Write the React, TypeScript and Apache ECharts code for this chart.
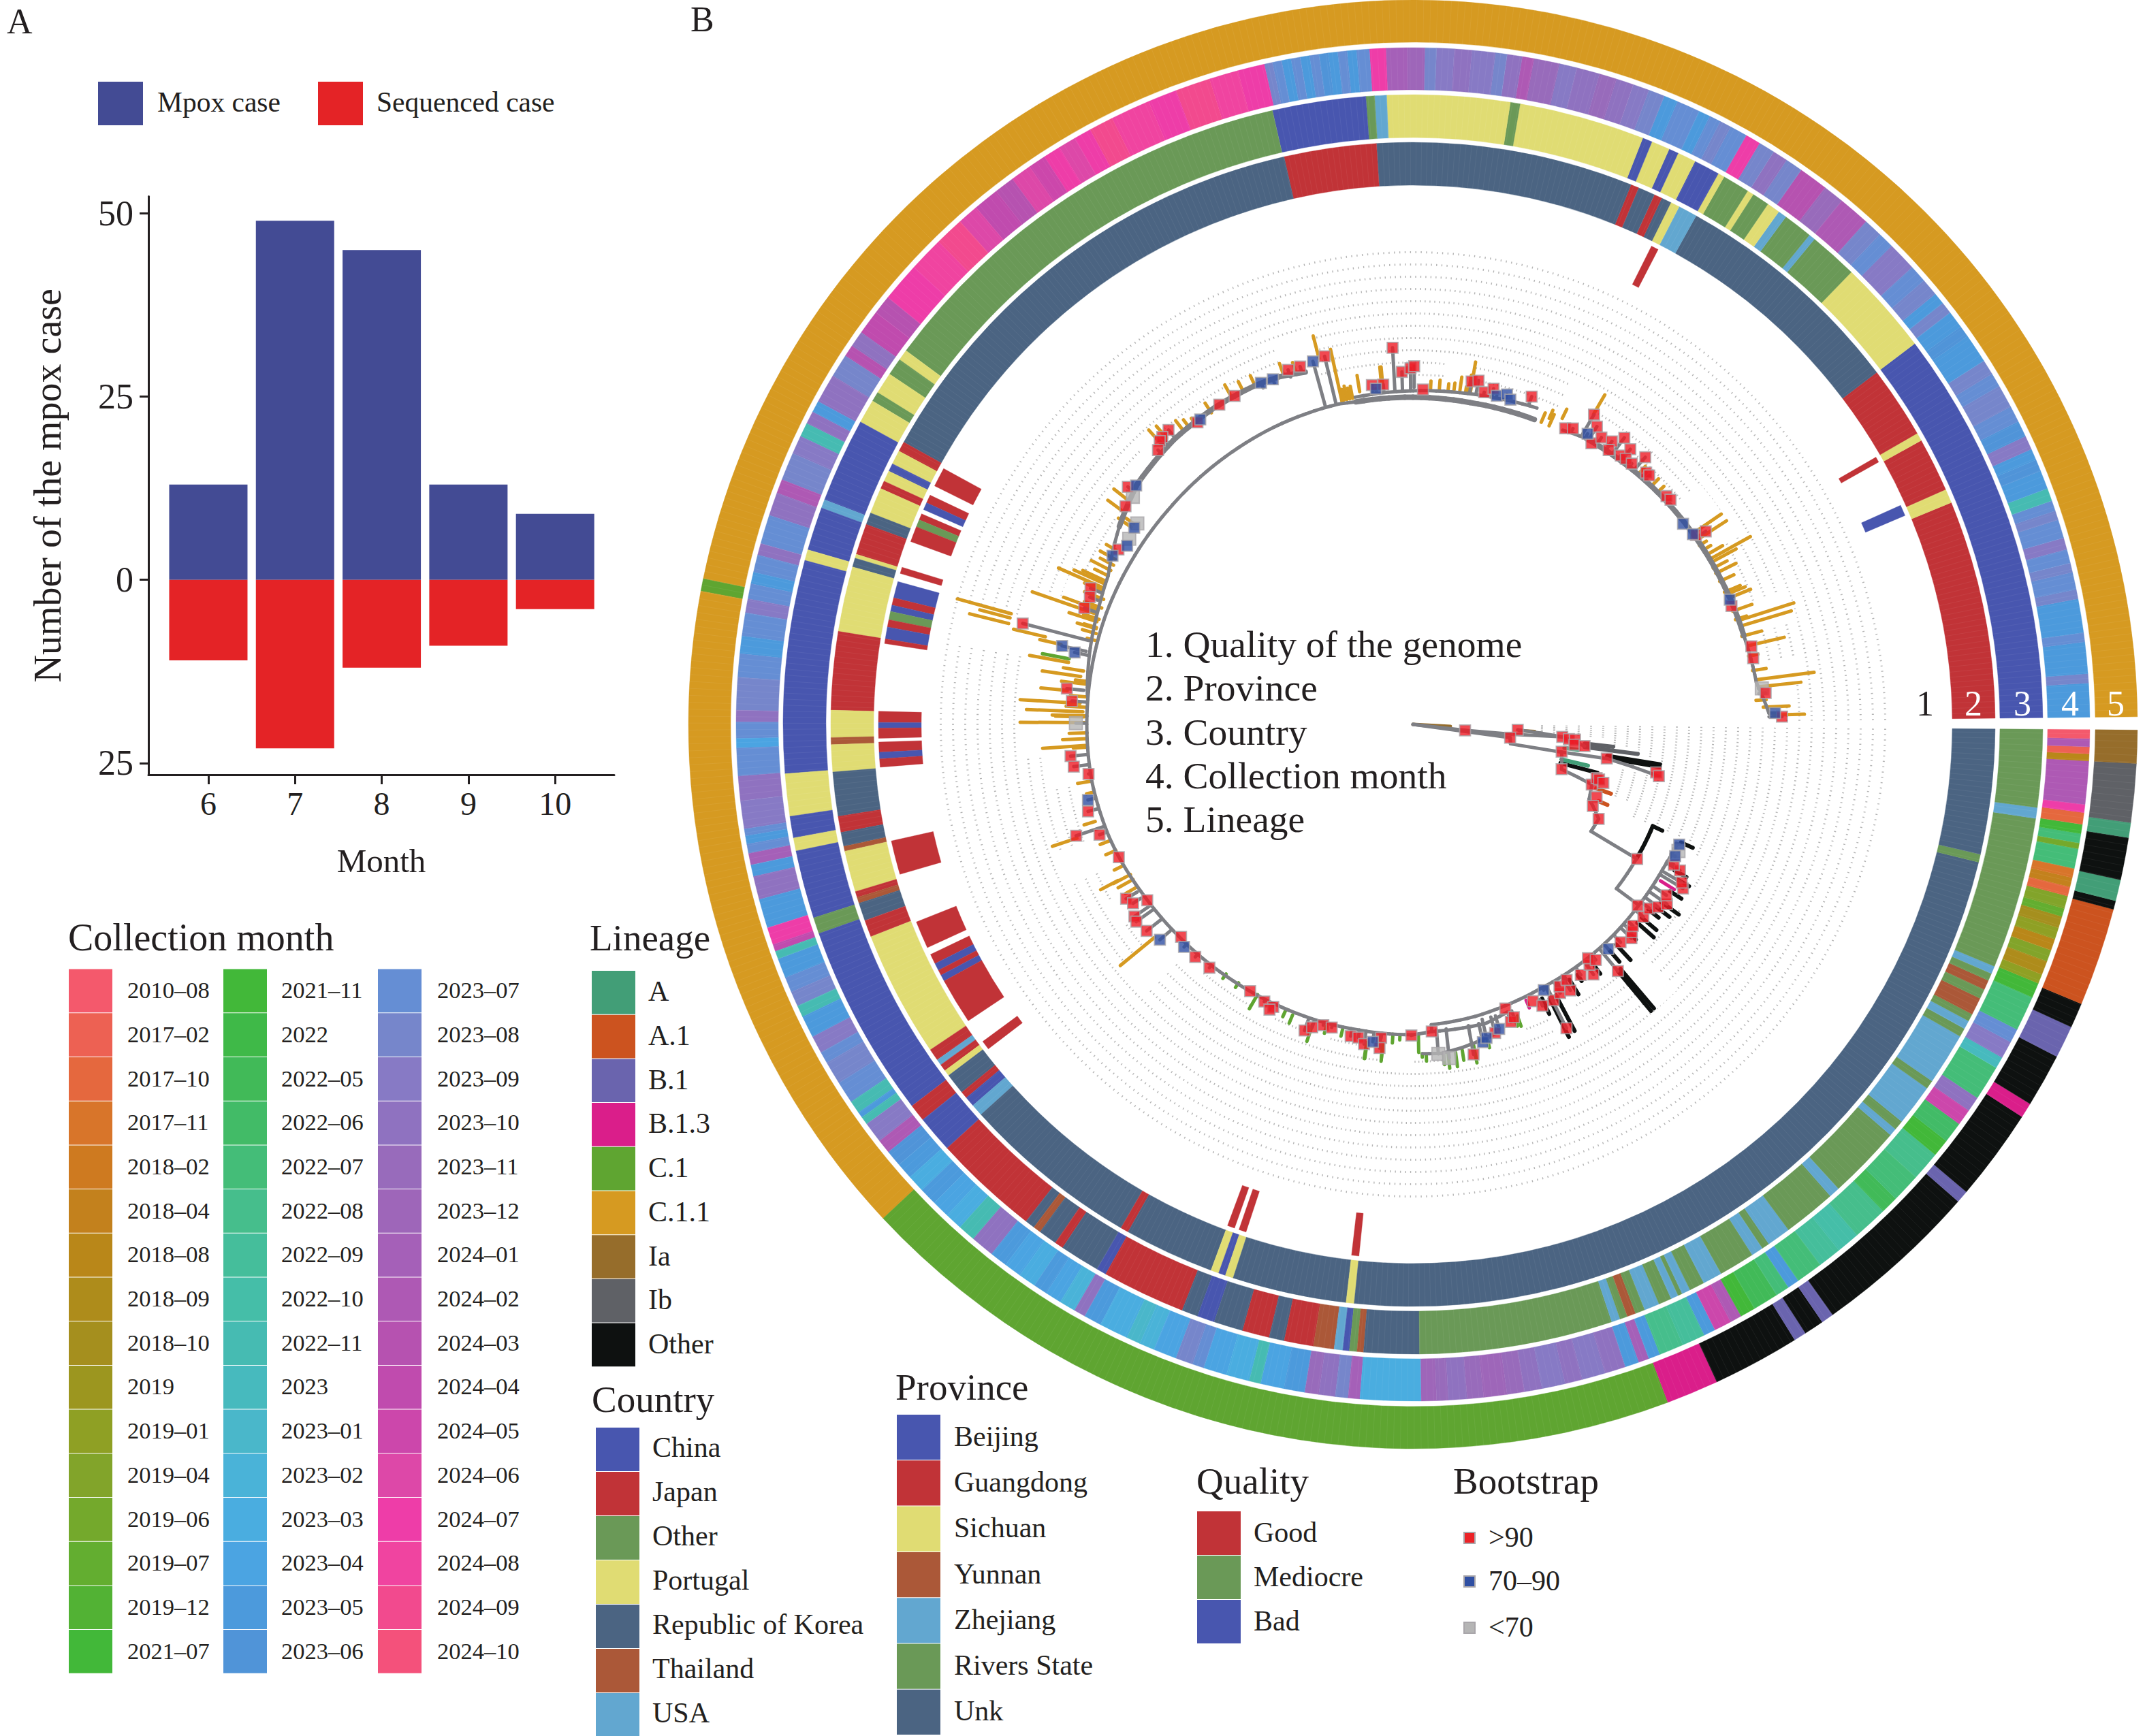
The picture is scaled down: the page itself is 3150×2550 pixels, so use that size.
import React, { useEffect, useRef } from "react";
import * as echarts from "echarts";

const FONT = '"Liberation Serif"';
const INK = "#231F20";

// ---------- Panel A data
const months = [6, 7, 8, 9, 10];
const mpoxCases = [13, 49, 45, 13, 9];
const sequencedCases = [-11, -23, -12, -9, -4];
const yTicks = [-25, 0, 25, 50];

// ---------- palettes / legends
const monthNames = ["2010–08","2017–02","2017–10","2017–11","2018–02","2018–04","2018–08","2018–09","2018–10","2019","2019–01","2019–04","2019–06","2019–07","2019–12","2021–07","2021–11","2022","2022–05","2022–06","2022–07","2022–08","2022–09","2022–10","2022–11","2023","2023–01","2023–02","2023–03","2023–04","2023–05","2023–06","2023–07","2023–08","2023–09","2023–10","2023–11","2023–12","2024–01","2024–02","2024–03","2024–04","2024–05","2024–06","2024–07","2024–08","2024–09","2024–10"];
const monthColors = ["#F4596C","#ED6153","#E5683E","#D8752A","#CE7A20","#C3811D","#B98719","#AE8C1B","#A58F1E","#9C961F","#8FA024","#82A42A","#74A92C","#63AE30","#52B234","#42B839","#42B839","#3FB948","#41BA58","#42BB67","#44BD78","#46BE8C","#45BE9B","#45BEA8","#46BBB2","#47BABE","#4AB7CA","#4AB3D8","#4AADE0","#4BA4E2","#4C9ADC","#5094D8","#658ED4","#7686CB","#877AC5","#8F72C0","#986BBB","#9E66B9","#A560B8","#AE59B4","#B652B0","#C04BAE","#CC47AB","#DD48A8","#EE3DA8","#F044A0","#F24A8E","#F4517B"];
const lineageNames = ["A","A.1","B.1","B.1.3","C.1","C.1.1","Ia","Ib","Other"];
const lineageColors = ["#429E77","#CC531F","#6A64AE","#DA1E8A","#5FA531","#D69A21","#966D2B","#5F6166","#0E1110"];
const countryNames = ["China","Japan","Other","Portugal","Republic of Korea","Thailand","USA"];
const countryColors = ["#4856AF","#C13337","#6A9957","#E0DC73","#4B6482","#AB5838","#62A7D0"];
const provinceNames = ["Beijing","Guangdong","Sichuan","Yunnan","Zhejiang","Rivers State","Unk"];
const provinceColors = ["#4856AF","#C13337","#E0DC73","#AB5838","#62A7D0","#6A9957","#4B6482"];
const qualityNames = ["Good","Mediocre","Bad"];
const qualityColors = ["#C13337","#6A9957","#4856AF"];
const bootstrapNames = [">90","70–90","<70"];
const bootstrapColors = ["#EC2227","#2F4FA3","#B5B5B5"];
const centreLines = ["1. Quality of the genome","2. Province","3. Country","4. Collection month","5. Lineage"];

// ---------- ring runs: [end angle in degrees, counter-clockwise from 3 o'clock, category]
const RING_START = 0.6;
const lineageRuns: [number, string][] = [[168.4,"C.1.1"],[169.4,"C.1"],[223,"C.1.1"],[290.6,"C.1"],[294.8,"B.1.3"],[301.8,"Other"],[302.8,"B.1"],[304.4,"Other"],[305.4,"B.1"],[318.8,"Other"],[319.8,"B.1"],[327.2,"Other"],[328.4,"B.1.3"],[332.7,"Other"],[335.3,"B.1"],[337.3,"Other"],[345.2,"A.1"],[345.9,"Other"],[347.6,"A"],[351,"Other"],[352.2,"A"],[356.9,"Ib"],[359.55,"Ia"]];
const K = "Republic of Korea";
const countryRuns: [number, string][] = [[37.2,"China"],[45.9,"Portugal"],[50.4,"Other"],[51,"USA"],[53.7,"Other"],[54.5,"USA"],[55.7,"Portugal"],[57.3,"Other"],[57.9,"Portugal"],[60.4,"Other"],[61,"Portugal"],[63.4,"China"],[65.1,"Portugal"],[66,"China"],[67.7,"Portugal"],[68.6,"China"],[80.2,"Portugal"],[81.1,"Other"],[92.4,"Portugal"],[93.5,"USA"],[94.3,"Other"],[102.9,"China"],[143.6,"Other"],[144.6,"Portugal"],[146.2,"Other"],[148.2,"Portugal"],[149.1,"Other"],[151.3,"Portugal"],[159.1,"China"],[159.9,"USA"],[163.9,"China"],[164.9,"Portugal"],[184.5,"China"],[188.4,"Portugal"],[190.4,"China"],[191.6,"Portugal"],[197.9,"China"],[199.4,"Other"],[217.3,"China"],[218.9,"Japan"],[222.3,"China"],[232.1,"Japan"],[233,K],[233.7,"Thailand"],[235.4,K],[236.2,"Japan"],[239.9,K],[240.8,"China"],[248.5,"Japan"],[250,K],[251.6,"China"],[254.3,K],[256.8,"Japan"],[258.2,K],[260.9,"Japan"],[262.8,"Thailand"],[263.6,"USA"],[264.2,"China"],[264.9,"Other"],[265.5,"Thailand"],[270.6,K],[288.4,"Other"],[289.2,"USA"],[289.9,"Other"],[290.7,"Thailand"],[291.6,"Other"],[293,"USA"],[294.2,"Other"],[294.9,"USA"],[295.3,"Other"],[296.1,"USA"],[297.5,"Other"],[299.3,"USA"],[302.6,"Other"],[303.7,"USA"],[304.4,"Other"],[306.6,"USA"],[311.5,"Other"],[312.5,"USA"],[319.3,"Other"],[320,"USA"],[320.9,"Other"],[324.7,"USA"],[325.5,"Other"],[330.3,"USA"],[331.1,"Other"],[331.9,"USA"],[332.6,"Other"],[334.2,"Thailand"],[335.1,"Other"],[336,"Thailand"],[336.7,"Other"],[337.4,"USA"],[351.4,"Other"],[352.4,"USA"],[359.55,"Other"]];
const provinceRuns: [number, string][] = [[22.4,"Guangdong"],[23.8,"Sichuan"],[29.2,"Guangdong"],[30,"Sichuan"],[37.2,"Guangdong"],[60.9,"Unk"],[62.8,"Zhejiang"],[63.7,"Sichuan"],[64.7,"Unk"],[65.5,"Guangdong"],[67.2,"Unk"],[68,"Guangdong"],[93.6,"Unk"],[102.8,"Guangdong"],[151,"Unk"],[152,"Guangdong"],[153.4,"Sichuan"],[154.2,"Beijing"],[155.3,"Sichuan"],[156.1,"Guangdong"],[158.7,"Sichuan"],[159.9,"Unk"],[163,"Guangdong"],[163.4,"Sichuan"],[164.3,"Unk"],[170.8,"Sichuan"],[178.6,"Guangdong"],[181.3,"Sichuan"],[182,"Yunnan"],[184.7,"Sichuan"],[189.1,"Unk"],[190.7,"Guangdong"],[192.1,"Unk"],[192.6,"Yunnan"],[196.7,"Sichuan"],[197.3,"Guangdong"],[197.9,"Yunnan"],[199.7,"Unk"],[201.4,"Guangdong"],[214,"Sichuan"],[215.2,"Guangdong"],[215.8,"Zhejiang"],[216.5,"Guangdong"],[217.1,"Sichuan"],[219.2,"Unk"],[219.9,"Guangdong"],[220.9,"Beijing"],[222.1,"Zhejiang"],[239.9,"Unk"],[240.7,"Guangdong"],[249.7,"Unk"],[250.5,"Sichuan"],[251.2,"Beijing"],[252,"Sichuan"],[263.4,"Unk"],[264.2,"Sichuan"],[346.3,"Unk"],[347.1,"Rivers State"],[359.55,"Unk"]];
const monthRuns: [number, string][] = [[3.5,"2023–05"],[4.3,"2023–08"],[7,"2023–05"],[7.8,"2023–07"],[10.7,"2023–05"],[11.5,"2023–08"],[13,"2023–07"],[13.8,"2023–08"],[15,"2023–07"],[16,"2023–09"],[17.6,"2023–07"],[18.4,"2023–08"],[19.3,"2023–07"],[20.4,"2022–11"],[22,"2023–05"],[23,"2023–06"],[24,"2023–05"],[25.2,"2023–09"],[26.6,"2023–06"],[28,"2023–07"],[30,"2023–08"],[31.2,"2023–07"],[32.5,"2023–08"],[35,"2023–05"],[36,"2023–06"],[37.5,"2023–05"],[38.5,"2023–08"],[39.5,"2023–05"],[41,"2023–08"],[42.5,"2023–07"],[45,"2023–09"],[46.4,"2023–07"],[48,"2023–08"],[50.7,"2024–02"],[52.5,"2023–11"],[55,"2024–03"],[56.5,"2023–08"],[57.8,"2023–10"],[59.2,"2023–08"],[60.5,"2024–07"],[62,"2023–07"],[63,"2023–08"],[64,"2023–07"],[65,"2023–05"],[67,"2023–07"],[68.2,"2023–05"],[69.6,"2023–08"],[71,"2023–09"],[72.5,"2023–10"],[74,"2023–11"],[76,"2023–10"],[77.5,"2023–09"],[79.7,"2023–11"],[80.7,"2024–02"],[82,"2023–10"],[83,"2023–08"],[85,"2023–09"],[86.5,"2023–10"],[88,"2023–09"],[89,"2023–08"],[90.5,"2023–12"],[92.3,"2024–01"],[93.7,"2024–07"],[94.8,"2023–07"],[95.6,"2023–05"],[96.4,"2023–07"],[97.2,"2023–05"],[98,"2023–06"],[98.8,"2023–07"],[99.6,"2023–05"],[100.4,"2023–07"],[101.2,"2023–05"],[102,"2023–07"],[102.7,"2023–08"],[105,"2024–07"],[107.5,"2024–08"],[110.5,"2024–09"],[113,"2024–07"],[116.4,"2024–08"],[118.5,"2024–09"],[120,"2024–07"],[121.5,"2024–06"],[123,"2024–07"],[124.5,"2024–05"],[126.3,"2024–06"],[128,"2024–03"],[130.2,"2024–04"],[132,"2024–06"],[134.5,"2024–09"],[137.5,"2024–08"],[140.9,"2024–07"],[142.5,"2024–03"],[144.6,"2024–04"],[146,"2023–10"],[147,"2024–03"],[149,"2023–08"],[151.5,"2023–10"],[152.5,"2023–05"],[153.6,"2023–10"],[154.8,"2022–11"],[156.4,"2023–09"],[158.8,"2023–08"],[160,"2024–02"],[162,"2023–10"],[164.5,"2023–07"],[165.5,"2023–10"],[167,"2023–07"],[168,"2023–05"],[169.3,"2023–07"],[170.5,"2023–09"],[172.5,"2023–07"],[174,"2023–05"],[176,"2023–07"],[178.8,"2023–08"],[179.8,"2023–10"],[181.2,"2023–07"],[182,"2023–04"],[184.4,"2023–07"],[186.5,"2023–10"],[188.9,"2023–09"],[189.5,"2023–07"],[190.2,"2023–05"],[191,"2023–07"],[192,"2024–01"],[193,"2023–05"],[195,"2023–10"],[197.5,"2023–05"],[199,"2024–07"],[199.6,"2024–04"],[200.3,"2022–11"],[202,"2023–05"],[203.3,"2023–07"],[204.6,"2023–08"],[205.6,"2022–11"],[207.5,"2023–05"],[209,"2023–09"],[210,"2023–07"],[212,"2023–08"],[213.9,"2023–07"],[215,"2022–11"],[215.5,"2023–05"],[216.2,"2022–11"],[218,"2023–09"],[219.2,"2024–02"],[220.6,"2023–06"],[222,"2023–05"],[223.5,"2023–03"],[225,"2023–05"],[226.5,"2023–04"],[228,"2023–03"],[229.5,"2022–11"],[231.5,"2023–10"],[233,"2023–05"],[234.5,"2023–04"],[236,"2023–03"],[237.2,"2023–05"],[238.6,"2023–04"],[240,"2023–02"],[241,"2023–10"],[242.5,"2023–05"],[245,"2023–03"],[246.2,"2023–01"],[247.5,"2023–02"],[249.5,"2023–04"],[251,"2023–08"],[252,"2023–07"],[254,"2023–04"],[256,"2023–03"],[257,"2022–11"],[259,"2023–04"],[260.8,"2023–05"],[262,"2023–11"],[263.4,"2023–10"],[264.5,"2023–08"],[265.5,"2024–01"],[270.7,"2023–03"],[272,"2023–12"],[273,"2023–11"],[274.6,"2023–10"],[276,"2023–11"],[278,"2023–12"],[279.5,"2023–11"],[281,"2023–10"],[283,"2023–09"],[284.5,"2023–10"],[286.5,"2023–09"],[288.3,"2023–10"],[289.5,"2023–05"],[290.4,"2024–01"],[291.4,"2023–05"],[293.5,"2022–08"],[295.5,"2022–09"],[296.5,"2023–05"],[298,"2024–05"],[299,"2024–02"],[300.3,"2021–07"],[302.5,"2022–05"],[303.7,"2022–07"],[304.7,"2023–05"],[307,"2022–07"],[309,"2022–09"],[311,"2022–10"],[314,"2022–08"],[315.5,"2022–05"],[318,"2022–07"],[320.5,"2022–08"],[322,"2021–07"],[323.8,"2022–06"],[325.2,"2024–05"],[326.5,"2023–10"],[329.5,"2022–07"],[330.5,"2023"],[332,"2023–09"],[333.2,"2023–07"],[336.2,"2022–07"],[337.5,"2021–07"],[338.3,"2019–01"],[339.5,"2018–09"],[340.5,"2019–04"],[341.5,"2018–08"],[342.5,"2019–01"],[343.5,"2018–10"],[344.2,"2019–07"],[345.3,"2019–04"],[346.1,"2017–10"],[346.9,"2018–04"],[347.7,"2017–11"],[349.4,"2022–07"],[349.9,"2019–06"],[350.7,"2022–07"],[351.5,"2021–07"],[352.5,"2017–10"],[353.2,"2024–07"],[356.9,"2024–02"],[357.5,"2018–08"],[358.1,"2017–02"],[358.8,"2024–02"],[359.55,"2010–08"]];
// quality ring is sparse: [start, end, category]
const qualityRuns: [number, number, string][] = [[23,24.2,"Bad"],[29.4,30,"Good"],[62.7,63.5,"Good"],[151.4,153.5,"Good"],[154.6,155.5,"Good"],[155.5,156.3,"Bad"],[156.8,157.5,"Good"],[157.5,158.3,"Mediocre"],[158.3,160,"Good"],[162.9,163.6,"Good"],[164.5,166.3,"Bad"],[166.3,167.1,"Good"],[167.1,167.8,"Bad"],[167.8,168.7,"Mediocre"],[168.7,169.5,"Good"],[169.5,170.8,"Bad"],[170.8,171.3,"Good"],[178.6,179.8,"Good"],[179.8,180.4,"Bad"],[180.4,181.5,"Good"],[181.9,183,"Good"],[183,183.7,"Bad"],[183.7,184.6,"Good"],[192.6,196.3,"Good"],[201.7,204.7,"Good"],[205.5,206.6,"Good"],[206.6,207.4,"Bad"],[207.4,208,"Good"],[208,208.7,"Bad"],[208.7,213.7,"Good"],[216.4,217.4,"Good"],[249.7,250.5,"Good"],[251,251.8,"Good"],[263.4,264.2,"Good"]];

// ---------- tree: polar readings [radius, angle]
const branchPaths: [number, number][][] = [
  [[523,1.8],[508,7],[503,15],[500,25],[497,36],[495,45],[491,58.7],[485,63]],
  [[499,68.6],[495,75],[492,82],[490,90],[488,100]],
  [[482,68.3],[480,80],[480,90],[481,100],[483,103],[482,115],[480,125],[478,139],[478,150],[479,160],[479,170],[479,180],[479,190],[476,200],[474,204],[468,213],[464,222],[460,235],[458,245],[456,260],[456,270]],
  [[541,107],[547,111],[549,115],[549,122],[546,130],[537,139],[520,146],[498,154],[492,160],[486,168],[480,175]],
  [[456,270],[452,273.5],[452,283.7],[445,288]],
  [[442,273.5],[438.6,282],[435,288],[431,295.5],[428,310],[425,321],[424,330],[426,335.3]],
  [[452,273.5],[442,273.5]],
  [[484,271.7],[485,275],[480,278.8],[470,285]],
  [[0,353.4],[77,353.4],[220,355.2],[254,352.8]],
  [[0,352.2],[144,352.2],[146,348.7],[222,349.4],[289,350],[369,348.1]],
  [[222,349.4],[228,343.2],[277,341.4],[292,342.9]],
  [[277,341.4],[281,337],[290,335.6]],
  [[290,335.6],[306,333],[305,329],[383,329]],
  [[383,329],[384,321.1],[424,321.3]],
  [[154,357],[220,355.2]],
];
const thickBackbone: [number, number][][] = [
  [[541,107],[547,111],[549,115],[549,122],[546,130],[537,139],[520,146]],
  [[482,68.3],[480,80],[481,100]],
  [[503,15],[500,25],[497,36],[495,45],[491,58.7]],
];
const blackPaths: [number, number][][] = [
  [[383,329],[382.5,337],[398,336.9]],
];
const goldTips: [number, number, number][] = [
  [503,587,17.7],[505,580,16.7],[505,560,13.2],[508,594,7.4],[510,573,6.2],[515,553,2.8],[530,575,1.5],[505,548,34.3],[505,549,33],[500,567,29.1],[500,540,28.5],[500,525,30],[500,534,21.8],[500,528,22.5],[527,560,59.8],[495,540,80.2],[495,527,95.1],[495,520,80.5],
  [484,564,102.4],[555,589,104.4],[498,547,155.5],[498,569,156.2],[492,592,160.8],[492,546,160],[488,531,162],[486,515,163.2],[612,694,164.6],[612,658,165.2],[612,671,166],[555,603,166.6],[530,562,167.2],[514,572,169.8],[493,550,171.8],[490,520,170.8],[510,549,174.4],[490,578,176.4],[485,568,177.8],[483,525,178.7],[482,577,179.7],[482,545,183.7],[521,559,198.7],[490,519,207.9],[492,557,219.5],
  [530,559,141.8],[525,556,143.7],[505,528,145],[505,519,144.3],[505,522,149.6],[555,581,131.9],[555,578,130.7],[545,562,122.9],[545,555,125.9],[548,565,115],[548,565,110.3],[548,560,108.4],[495,519,99.1],[497,527,95.3],
  [505,520,4],[505,525,9],[503,517,11.5],[500,530,15],[498,515,18],[498,528,19.5],[497,522,23],[497,520,25],[497,530,26.5],[497,520,27.5],[498,510,31],[496,508,32],[497,508,43.5],[498,510,45],[497,510,48],[500,515,64],[492,505,66],[482,497,67],[482,500,65.5],
  [492,505,87],[492,507,85.5],[492,503,84],[495,505,83],[495,515,82],[495,502,81],[487,505,100.5],[487,503,101],[487,507,101.5],[487,503,102],
  [482,500,190],[482,490,192],[488,505,197],[476,492,201],[474,490,203],[474,488,206],[470,495,209],[470,490,210.5],[470,498,208],
  [500,525,151],[498,520,152],[498,530,153],[498,520,154],[498,535,155],[497,525,156.7],[490,520,158],[488,515,159.5],[486,510,161.5],[486,505,163],[484,505,164],[483,495,165.2],[482,500,172.5],[481,520,173],[480,505,175.2],[480,510,177],[480,530,178.5],[479,505,181.5],[479,515,182.5],[479,500,184],[550,570,119],[550,565,117],[548,560,127],[550,566,128],
];
const greenTips: [number, number, number][] = [
  [514,554,169.2],[458,482,240.1],[478,496,261.7],[478,497,264.6],[457,482,271],[472,496,261.8],[470,495,264.6],[456,469,266.3],[456,464,267.6],[486,495,272.3],[484,489,271.6],[486,508,276.1],[486,502,275.3],[486,507,277.4],[484,499,278.6],[480,506,280.7],[472,488,283.3],[455,471,289.7],[455,469,289.1],[458,466,233.2],[458,466,236],[458,470,246],[462,475,247.5],[465,491,251.5],[462,472,254],[460,470,257],
];
const blackTips: [number, number, number][] = [
  [471,547,309.7],[471,547,310.3],[450,509,297.8],[450,513,296.5],[440,465,301.5],[445,458,306.9],[440,462,311],[440,471,312.7],[445,455,316],[440,472,318.5],[440,468,319.8],[440,459,321.8],[445,471,323.1],[448,480,324.4],[450,470,327],[450,470,329.6],[440,460,330.8],[430,449,336.2],[445,470,295.2],[440,451,303.3],[289,367.5,350.2],[289,367.5,350.8],[224,280,345.3],
];
const ibTips: [number, number, number][] = [[254,296,353.6],[254,333,352.5]];
const aTips: [number, number, number][] = [[224,264,346.7],[225,246,351.2]];
const a1Tips: [number, number, number][] = [[285,308,340.7],[295,309,337.5]];
const iaTips: [number, number, number][] = [[0,55,356.9],[157,179,356.6]];
const b13Tips: [number, number, number][] = [[430,454,327.7],[438,450,292.3]];

const nodesHigh: [number, number][] = [[554,93.1],[518,91.8],[523,90.4],[526,89.8],[492,88.3],[502,96.9],[501,95],[511,80.3],[514,79.2],[499,77.9],[507,76.5],[512,70.1],[489,62.8],[494,61.6],[527,59.7],[514,58.3],[489,57.6],[504,56.7],[508,54.9],[495,54.5],[523,53.6],[499,52.3],[515,51.7],[500,51.3],[500,50],[520,49],[504,47.2],[504,46.5],[501,42],[502,41.1],[500,33.8],[515,33.4],[499,20.4],[510,13],[509,11],[520,5.1],[542,1.2],
  [556,103.5],[551,107.5],[552,109.4],[549,118.5],[549,121.2],[545,125.5],[562,129.7],[560,131.1],[558,131.8],[550,132.9],[545,140.2],[530,142.8],[503,149.3],[514,157.1],[510,158.5],[512,160.5],[592,165.5],[511,174.1],[502,176.1],
  [505,185.3],[502,187.1],[482,188.7],[494,195],[521,198.3],[488,199.4],[474,204.3],[493,211.3],[488,212.6],[468,213.5],[497,214.6],[499,215.5],[495,217.8],[462,222.5],[468,226.9],[466,230.1],[459,238.6],[462,241.8],[463,243.7],[469,243.3],[477,250.5],[469,251.6],[461,253.4],[461,255],[467,258.7],[467,260.1],[475,261.3],[463,264.2],[478,264.1],[457,269.7],
  [452,273.5],[439,288],[460,288.2],[455,289],[443,293.4],[455,294.7],[455,297],[450,298.7],[441,299.2],[500,296.8],[454,300.6],[438,301],[443,303.8],[453,305.8],[438,306.3],[429,306.8],[438,307.8],[471,309.7],[442,313.6],[449,315.6],[443,316.5],[438,317.5],[441,320.1],[424,321.1],[440,322.1],[449,323.3],[457,324.7],[449,326],[464,328.7],[458,329.5],[447,331.3],[435,331.7],[384,329],
  [493,280.4],[469,284.9],
  [77,353.4],[154,357],[144,352.2],[220,355.2],[230,354.6],[239,354.6],[239,352.8],[254,352.8],[222,349.6],[289,350],[364,348.8],[369,348.1],[228,343.2],[277,341.4],[281,343.7],[285,343.5],[292.5,342.9],[290,338.4],[290,335.6],[306,333]];
const nodesMid: [number, number][] = [[496,96.3],[498,75.7],[504,74.1],[498,73.3],[498,59],[494,36.6],[497,34.2],[500,21.5],[532,1.8],[553,105.4],[547,112.1],[549,114],[546,124.9],[537,139.2],[501,144.8],[495,148],[506,150.7],[528,167.4],[508,168],[490,193.1],[488,220.4],[469,224.2],[470,262.8],[435,296.2],[437,311],[431,333.3],[429,335.7],[478,282.4],[473,283.2],[465,285.8]];
const nodesLow: [number, number][] = [[515,5.9],[530,140.9],[501,143.9],[498,146.8],[495,179.8],[485.5,274.4],[493,276.2],[432,334.5]];

// radius of the branch each tip grows from, [from angle, radius]
const stemAngles = [0,5,15,36,45,58,64,68,75,90,103,107,115,125,135,139,146,154,160,168,175,190,204,213,222,235,245,260,270,273,283,295,310,321,330,336.5];
const stemRadii = [523,510,503,497,495,491,486,499,495,490,484,541,547,545,540,537,515,498,492,486,480,479,474,468,464,460,458,456,456,450,445,431,428,425,424,9999];

// dotted tip-alignment lines: inner end by sector, [from angle, radius]
const dotAngles = [0,3,6,10,15,20,25,30,35,40,45,50,55,60,65,70,75,80,85,90,95,100,105,110,115,120,125,130,135,140,145,150,155,160,165,170,175,180,185,190,195,200,205,210,215,220,225,230,235,240,245,250,255,260,265,270,275,280,285,290,295,300,305,310,315,320,325,330,335,337,340,345,348,350,352,354,356,358];
const dotRadii = [545,555,575,530,585,530,520,560,550,510,510,525,525,560,510,510,510,540,510,530,530,520,590,565,565,555,560,580,560,560,530,525,550,590,690,575,575,578,545,510,500,555,500,520,500,557,480,470,470,485,475,485,470,490,500,480,505,505,490,475,515,470,470,550,475,470,480,465,450,340,310,310,370,365,333,296,180,175];

const DOT_OUTER = 695;
const DOT_STEP = 0.65;
const SEAM_STEP = 0.55;
const R = { quality: [722, 785], province: [792, 855], country: [862, 925], month: [932, 994], lineage: [1002, 1064] };
const CX = 2075, CY = 1064;

function lookup(angles: number[], values: number[], a: number) {
  let v = values[0];
  for (let i = 0; i < angles.length; i++) if (angles[i] <= a) v = values[i];
  return v;
}

function buildOption() {
  // ---- ring sectors
  const palette: string[] = [];
  const sectorRows: number[][] = [];
  const pushRun = (band: number[], a0: number, a1: number, color: string) => {
    palette.push(color);
    sectorRows.push([band[0], a0, band[1], a1, palette.length - 1]);
  };
  const pushRuns = (runs: [number, string][], band: number[], names: string[], colors: string[]) => {
    let start = RING_START;
    runs.forEach(([end, name]) => { pushRun(band, start, end, colors[names.indexOf(name)]); start = end; });
  };
  pushRuns(provinceRuns, R.province, provinceNames, provinceColors);
  pushRuns(countryRuns, R.country, countryNames, countryColors);
  pushRuns(monthRuns, R.month, monthNames, monthColors);
  pushRuns(lineageRuns, R.lineage, lineageNames, lineageColors);
  qualityRuns.forEach(([a, b, n]) => pushRun(R.quality, a, b, qualityColors[qualityNames.indexOf(n)]));

  // ---- faint seams between neighbouring tips
  const seamRows: number[][] = [];
  [R.province, R.country, R.month, R.lineage].forEach((band) => {
    for (let a = RING_START + SEAM_STEP; a < 359.4; a += SEAM_STEP) seamRows.push([band[0], a, band[1], a, 0]);
  });

  // ---- dotted lines
  const dotRows: number[][] = [];
  for (let a = RING_START; a < 359.5; a += DOT_STEP) {
    const inner = lookup(dotAngles, dotRadii, a);
    dotRows.push([DOT_OUTER, a, inner, a, 0]);
  }

  // ---- tree lines
  const lineStyles = [
    { stroke: "#7E7F84", lineWidth: 5 },
    { stroke: "#D69A21", lineWidth: 5 },
    { stroke: "#5FA531", lineWidth: 5 },
    { stroke: "#0E1110", lineWidth: 6 },
    { stroke: "#5F6166", lineWidth: 6 },
    { stroke: "#429E77", lineWidth: 6 },
    { stroke: "#CC531F", lineWidth: 6 },
    { stroke: "#966D2B", lineWidth: 5 },
    { stroke: "#DA1E8A", lineWidth: 5 },
    { stroke: "#7E7F84", lineWidth: 8 },
  ];
  const treeRows: number[][] = [];
  const addTips = (tips: [number, number, number][], s: number) =>
    tips.forEach(([r0, r1, a]) => treeRows.push([r0, a, r1, a, s]));
  const addPath = (p: [number, number][], s: number) => {
    for (let i = 1; i < p.length; i++) {
      const [r0, a0] = p[i - 1];
      const [r1, a1] = p[i];
      const n = Math.max(1, Math.ceil(Math.abs(a1 - a0) / 1.5));
      for (let k = 0; k < n; k++) {
        const t0 = k / n, t1 = (k + 1) / n;
        treeRows.push([r0 + (r1 - r0) * t0, a0 + (a1 - a0) * t0, r0 + (r1 - r0) * t1, a0 + (a1 - a0) * t1, s]);
      }
    }
  };
  addTips(goldTips, 1); addTips(greenTips, 2); addTips(blackTips, 3); addTips(ibTips, 4);
  addTips(aTips, 5); addTips(a1Tips, 6); addTips(iaTips, 7); addTips(b13Tips, 8);
  blackPaths.forEach((p) => addPath(p, 3));
  [...nodesHigh, ...nodesMid, ...nodesLow].forEach(([r, a]) => {
    const base = lookup(stemAngles, stemRadii, a);
    if (r > base) treeRows.push([base, a, r, a, 0]);
  });
  branchPaths.forEach((p) => addPath(p, 0));
  thickBackbone.forEach((p) => addPath(p, 9));

  const lineRender = (styleOf: (i: number) => any) => (_: any, api: any) => {
    const a = api.coord([api.value(0), api.value(1)]);
    const b = api.coord([api.value(2), api.value(3)]);
    return { type: "line", silent: true, shape: { x1: a[0], y1: a[1], x2: b[0], y2: b[1] }, style: { lineCap: "round", ...styleOf(api.value(4)) } };
  };

  // ---- graphics: legends and texts
  const g: any[] = [];
  const txt = (text: string, x: number, y: number, size: number, fill = INK, align = "left") =>
    g.push({ type: "text", silent: true, z: 20, x, y, style: { text, fontFamily: FONT, fontSize: size, fill, textAlign: align, textVerticalAlign: "middle", align, verticalAlign: "middle" } });
  const rect = (x: number, y: number, w: number, h: number, fill: string, extra: any = {}) =>
    g.push({ type: "rect", silent: true, shape: { x, y, width: w, height: h }, style: { fill, ...extra } });

  txt("A", 10, 31, 52);
  txt("B", 1014, 28, 52);
  rect(144, 120, 66, 64, "#434B94");
  txt("Mpox case", 231, 150, 41.5);
  rect(467, 120, 66, 64, "#E42326");
  txt("Sequenced case", 553, 150, 41.5);

  txt("Collection month", 100, 1377, 56);
  const colX = [101, 328, 555];
  const colText = [187, 413, 642];
  monthNames.forEach((m, i) => {
    const c = Math.floor(i / 16), row = i % 16;
    const y = 1423.6 + row * 64.7;
    rect(colX[c], y, 64, 63.7, monthColors[i]);
    txt(m, colText[c], y + 30.5, 34.5);
  });

  const legend = (title: string, tx: number, ty: number, names: string[], colors: string[], sx: number, sy: number, sh: number, lx: number, dy = -2) => {
    txt(title, tx, ty, 55);
    names.forEach((n, i) => {
      rect(sx, sy + i * sh, 64, sh - 1, colors[i]);
      txt(n, lx, sy + i * sh + sh / 2 + dy, 42);
    });
  };
  legend("Lineage", 866, 1377, lineageNames, lineageColors, 869, 1426, 64.7, 952);
  legend("Country", 869, 2055, countryNames, countryColors, 875, 2097, 65, 958, -4);
  legend("Province", 1315, 2037, provinceNames, provinceColors, 1317, 2078, 67.3, 1401);
  legend("Quality", 1757, 2175, qualityNames, qualityColors, 1758, 2220, 65, 1841);
  txt("Bootstrap", 2134, 2175, 55);
  const bootY = [2259, 2323, 2391];
  bootstrapNames.forEach((n, i) => {
    rect(2150, bootY[i] - 8, 16, 16, bootstrapColors[i], { stroke: "#A9A6AA", lineWidth: 2 });
    txt(n, 2186, bootY[i] - 1, 42);
  });

  const lineY = [946, 1010, 1075, 1139, 1203];
  centreLines.forEach((t, i) => txt(t, 1682, lineY[i], 55.5));

  const ringX = [2827, 2898, 2970, 3040, 3107];
  ringX.forEach((x, i) => txt(String(i + 1), x, 1033, 52, i === 0 ? INK : "#FFFFFF", "center"));

  const scatter = (data: [number, number][], color: string, size: number) => ({
    type: "scatter", coordinateSystem: "polar", silent: true, z: 5,
    data, symbol: "rect", symbolSize: size, encode: { radius: 0, angle: 1 },
    itemStyle: { color, borderColor: "#A9A6AA", borderWidth: 1.8 },
  });

  return {
    animation: false,
    backgroundColor: "#FFFFFF",
    textStyle: { fontFamily: FONT },
    grid: { left: 218, top: 288.6, width: 684, height: 849.4 },
    xAxis: {
      type: "value", min: 5.309, max: 10.682, name: "Month", nameLocation: "middle", nameGap: 102,
      nameTextStyle: { fontFamily: FONT, fontSize: 49, color: INK },
      axisLine: { show: true, onZero: false, lineStyle: { color: INK, width: 3 } },
      axisTick: { show: true, customValues: months, length: 14, lineStyle: { color: INK, width: 3 } },
      axisLabel: { customValues: months, fontFamily: FONT, fontSize: 48, color: INK, margin: 18 },
      splitLine: { show: false },
    },
    yAxis: {
      type: "value", min: -26.6, max: 52.3, name: "Number of the mpox case", nameLocation: "middle", nameGap: 120,
      nameTextStyle: { fontFamily: FONT, fontSize: 56, color: INK },
      axisLine: { show: true, onZero: false, lineStyle: { color: INK, width: 3 } },
      axisTick: { show: true, customValues: yTicks, length: 13, lineStyle: { color: INK, width: 3 } },
      axisLabel: { customValues: yTicks, fontFamily: FONT, fontSize: 52, color: INK, margin: 22, formatter: (v: number) => String(Math.abs(v)) },
      splitLine: { show: false },
    },
    polar: { center: [CX, CY], radius: [0, 1064] },
    radiusAxis: { type: "value", min: 0, max: 1064, show: false },
    angleAxis: { type: "value", min: 0, max: 360, startAngle: 0, clockwise: false, show: false },
    graphic: { elements: g },
    series: [
      { type: "bar", name: "Mpox case", data: months.map((m, i) => [m, mpoxCases[i]]), barWidth: 115, barGap: "-100%", itemStyle: { color: "#434B94" } },
      { type: "bar", name: "Sequenced case", data: months.map((m, i) => [m, sequencedCases[i]]), barWidth: 115, barGap: "-100%", itemStyle: { color: "#E42326" } },
      {
        type: "custom", coordinateSystem: "polar", silent: true, z: 2, encode: { radius: 0, angle: 1 }, data: sectorRows,
        renderItem: (_: any, api: any) => {
          const c = api.coord([0, 0]);
          const a = api.coord([api.value(0), api.value(1)]);
          const b = api.coord([api.value(2), api.value(1)]);
          const r0 = Math.hypot(a[0] - c[0], a[1] - c[1]);
          const r1 = Math.hypot(b[0] - c[0], b[1] - c[1]);
          const rad = Math.PI / 180;
          return {
            type: "sector", silent: true,
            shape: { cx: c[0], cy: c[1], r0, r: r1, startAngle: -api.value(3) * rad, endAngle: -api.value(1) * rad, clockwise: true },
            style: { fill: palette[api.value(4)], stroke: palette[api.value(4)], lineWidth: 0.4 },
          };
        },
      },
      {
        type: "custom", coordinateSystem: "polar", silent: true, z: 2.5, encode: { radius: 0, angle: 1 }, data: seamRows,
        renderItem: lineRender(() => ({ stroke: "#FFFFFF", opacity: 0.08, lineWidth: 0.8, lineCap: "butt" })),
      },
      {
        type: "custom", coordinateSystem: "polar", silent: true, z: 3, encode: { radius: 0, angle: 1 }, data: dotRows,
        renderItem: lineRender(() => ({ stroke: "#B4B4B4", lineWidth: 1.4, lineDash: [3, 15], lineCap: "butt" })),
      },
      {
        type: "custom", coordinateSystem: "polar", silent: true, z: 4, encode: { radius: 0, angle: 1 }, data: treeRows,
        renderItem: lineRender((i) => lineStyles[i]),
      },
      scatter(nodesLow, "#B5B5B5", 19),
      scatter(nodesHigh, "#EE1C25", 16),
      scatter(nodesMid, "#2F4FA3", 16),
    ],
  };
}

export default function App() {
  const ref = useRef<HTMLDivElement>(null);
  useEffect(() => {
    const chart = echarts.init(ref.current!, undefined, { renderer: "svg" });
    chart.setOption(buildOption() as any);
    return () => chart.dispose();
  }, []);
  return <div ref={ref} style={{ position: "absolute", left: 0, top: 0, width: 3150, height: 2550 }} />;
}
